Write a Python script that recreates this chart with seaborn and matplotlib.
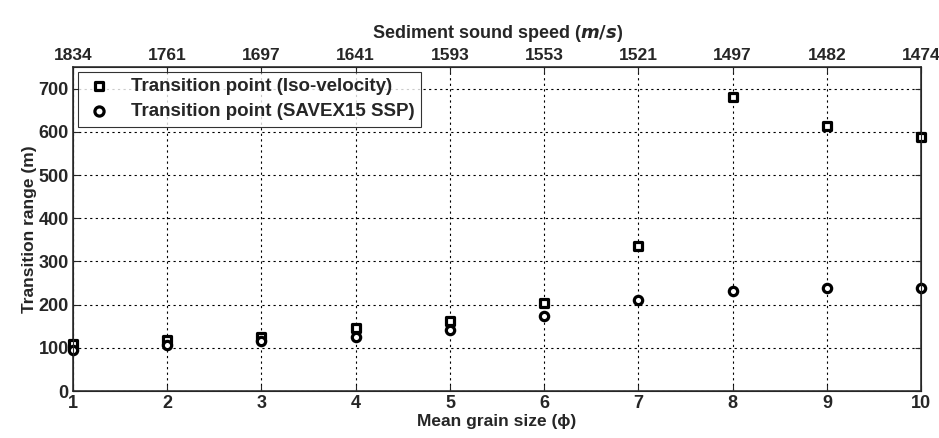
import matplotlib
matplotlib.use("Agg")
import matplotlib.pyplot as plt
import seaborn as sns
import pandas as pd

grain_size = [1, 2, 3, 4, 5, 6, 7, 8, 9, 10]
iso_velocity = [108, 118, 125, 145, 162, 204, 335, 680, 613, 588]
savex15 = [95, 106, 115, 126, 141, 175, 212, 231, 239, 239]
sound_speed_labels = ["1834", "1761", "1697", "1641", "1593", "1553", "1521", "1497", "1482", "1474"]
y_ticks = [0, 100, 200, 300, 400, 500, 600, 700]

sns.set_style("ticks")
plt.rcParams['font.family'] = ['Liberation Sans', 'DejaVu Sans']
plt.rcParams['font.weight'] = 'bold'
plt.rcParams['mathtext.fontset'] = 'dejavusans'

fig = plt.figure(figsize=(9.39, 4.38), dpi=100)
ax = fig.add_axes([0.0777, 0.107, 0.9033, 0.740])

df1 = pd.DataFrame({"x": grain_size, "y": iso_velocity})
df2 = pd.DataFrame({"x": grain_size, "y": savex15})
sns.scatterplot(data=df1, x="x", y="y", marker="s", s=28, facecolor="white",
                edgecolor="black", linewidth=2.3, ax=ax, zorder=3, clip_on=False,
                label="Transition point (Iso-velocity)")
sns.scatterplot(data=df2, x="x", y="y", marker="o", s=36, facecolor="white",
                edgecolor="black", linewidth=2.3, ax=ax, zorder=3, clip_on=False,
                label="Transition point (SAVEX15 SSP)")

ax.set_xlim(1, 10)
ax.set_ylim(0, 750)
ax.set_xticks(grain_size)
ax.set_yticks(y_ticks)
ax.grid(True, color="black", linestyle=(0, (2, 3)), linewidth=0.8)
ax.tick_params(direction="in", labelsize=13, length=4, top=False, right=True, pad=3)
for lbl in ax.get_xticklabels() + ax.get_yticklabels():
    lbl.set_fontweight("bold")
ax.set_xlabel("Mean grain size (\u03d5)", fontsize=12.5, fontweight="bold", labelpad=1)
ax.set_ylabel("Transition range (m)", fontsize=12.5, fontweight="bold", labelpad=1)
for sp in ax.spines.values():
    sp.set_color("#333333")
    sp.set_linewidth(1.2)

ax2 = ax.twiny()
ax2.set_xlim(ax.get_xlim())
ax2.set_xticks(grain_size)
ax2.set_xticklabels(sound_speed_labels, fontsize=12.5, fontweight="bold")
ax2.tick_params(direction="in", length=4, pad=3)
ax2.set_xlabel("Sediment sound speed ($m/s$)", fontsize=13, fontweight="bold", labelpad=7)

leg = ax.legend(loc="upper left", frameon=True, fancybox=False, edgecolor="black",
                fontsize=13.5, borderaxespad=0.25, handletextpad=0.9,
                borderpad=0.35, labelspacing=0.4, handlelength=1.6, markerscale=1.1)
leg.get_frame().set_linewidth(0.8)
for t in leg.get_texts():
    t.set_fontweight("bold")

fig.savefig("out.png", dpi=100)
